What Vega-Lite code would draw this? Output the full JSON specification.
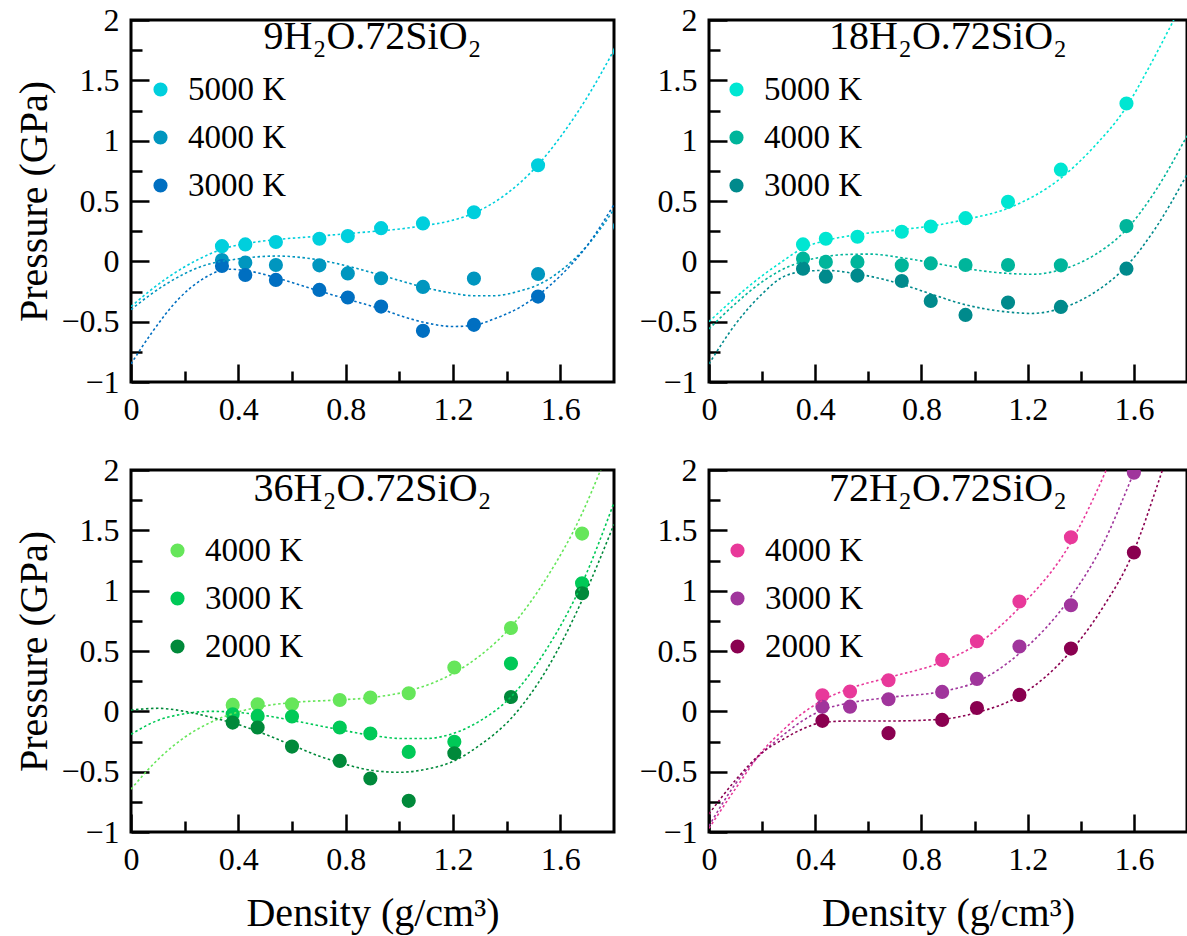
{
  "$schema": "https://vega.github.io/schema/vega-lite/v6.json",
  "background": "white",
  "padding": {"left": 13, "top": 2, "right": 0, "bottom": 0},
  "config": {
    "font": "Liberation Serif",
    "view": {"stroke": "black", "strokeWidth": 3, "fill": null},
    "axis": {"labelFont": "Liberation Serif", "labelFontSize": 32, "labelColor": "black", "titleFont": "Liberation Serif", "titleFontSize": 40, "titleFontWeight": "normal", "titleColor": "black", "grid": false, "domain": false, "tickColor": "black", "tickWidth": 2.5, "labelFlush": false, "labelOverlap": false},
    "legend": {"labelFont": "Liberation Serif", "labelFontSize": 33, "labelColor": "black", "symbolType": "circle", "symbolSize": 200, "symbolOpacity": 1, "symbolStrokeWidth": 0, "rowPadding": 14, "labelOffset": 11, "padding": 0, "orient": "none"},
    "title": {"font": "Liberation Serif", "fontSize": 40, "fontWeight": "normal", "color": "black", "anchor": "middle", "frame": "group", "baseline": "alphabetic"}
  },
  "datasets": {
    "p1": [
      {"T": "5000 K", "density": 0.339, "pressure": 0.126},
      {"T": "5000 K", "density": 0.426, "pressure": 0.14},
      {"T": "5000 K", "density": 0.540, "pressure": 0.16},
      {"T": "5000 K", "density": 0.702, "pressure": 0.187},
      {"T": "5000 K", "density": 0.808, "pressure": 0.209},
      {"T": "5000 K", "density": 0.932, "pressure": 0.275},
      {"T": "5000 K", "density": 1.088, "pressure": 0.314},
      {"T": "5000 K", "density": 1.278, "pressure": 0.407},
      {"T": "5000 K", "density": 1.517, "pressure": 0.796},
      {"T": "5000 K", "density": 1.822, "pressure": 1.74},
      {"T": "4000 K", "density": 0.339, "pressure": 0.011},
      {"T": "4000 K", "density": 0.426, "pressure": -0.011},
      {"T": "4000 K", "density": 0.540, "pressure": -0.03},
      {"T": "4000 K", "density": 0.702, "pressure": -0.033},
      {"T": "4000 K", "density": 0.808, "pressure": -0.10},
      {"T": "4000 K", "density": 0.932, "pressure": -0.14},
      {"T": "4000 K", "density": 1.088, "pressure": -0.212},
      {"T": "4000 K", "density": 1.278, "pressure": -0.143},
      {"T": "4000 K", "density": 1.517, "pressure": -0.105},
      {"T": "4000 K", "density": 1.822, "pressure": 0.29},
      {"T": "3000 K", "density": 0.339, "pressure": -0.039},
      {"T": "3000 K", "density": 0.426, "pressure": -0.113},
      {"T": "3000 K", "density": 0.540, "pressure": -0.154},
      {"T": "3000 K", "density": 0.702, "pressure": -0.237},
      {"T": "3000 K", "density": 0.808, "pressure": -0.30},
      {"T": "3000 K", "density": 0.932, "pressure": -0.375},
      {"T": "3000 K", "density": 1.088, "pressure": -0.576},
      {"T": "3000 K", "density": 1.278, "pressure": -0.526},
      {"T": "3000 K", "density": 1.517, "pressure": -0.292}
    ],
    "c1": [
      {"T": "5000 K", "density": 0, "pressure": -0.375},
      {"T": "5000 K", "density": 0.07, "pressure": -0.245},
      {"T": "5000 K", "density": 0.14, "pressure": -0.13},
      {"T": "5000 K", "density": 0.252, "pressure": 0.017},
      {"T": "5000 K", "density": 0.339, "pressure": 0.10},
      {"T": "5000 K", "density": 0.45, "pressure": 0.155},
      {"T": "5000 K", "density": 0.54, "pressure": 0.18},
      {"T": "5000 K", "density": 0.68, "pressure": 0.205},
      {"T": "5000 K", "density": 0.808, "pressure": 0.23},
      {"T": "5000 K", "density": 0.93, "pressure": 0.253},
      {"T": "5000 K", "density": 1.01, "pressure": 0.27},
      {"T": "5000 K", "density": 1.088, "pressure": 0.295},
      {"T": "5000 K", "density": 1.18, "pressure": 0.33},
      {"T": "5000 K", "density": 1.278, "pressure": 0.40},
      {"T": "5000 K", "density": 1.4, "pressure": 0.56},
      {"T": "5000 K", "density": 1.517, "pressure": 0.80},
      {"T": "5000 K", "density": 1.6, "pressure": 1.03},
      {"T": "5000 K", "density": 1.7, "pressure": 1.36},
      {"T": "5000 K", "density": 1.8, "pressure": 1.75},
      {"T": "4000 K", "density": 0, "pressure": -0.40},
      {"T": "4000 K", "density": 0.07, "pressure": -0.28},
      {"T": "4000 K", "density": 0.14, "pressure": -0.176},
      {"T": "4000 K", "density": 0.265, "pressure": -0.04},
      {"T": "4000 K", "density": 0.389, "pressure": 0.017},
      {"T": "4000 K", "density": 0.47, "pressure": 0.037},
      {"T": "4000 K", "density": 0.55, "pressure": 0.044},
      {"T": "4000 K", "density": 0.62, "pressure": 0.035},
      {"T": "4000 K", "density": 0.70, "pressure": 0.012},
      {"T": "4000 K", "density": 0.808, "pressure": -0.04},
      {"T": "4000 K", "density": 0.932, "pressure": -0.115},
      {"T": "4000 K", "density": 1.01, "pressure": -0.165},
      {"T": "4000 K", "density": 1.1, "pressure": -0.22},
      {"T": "4000 K", "density": 1.2, "pressure": -0.265},
      {"T": "4000 K", "density": 1.278, "pressure": -0.285},
      {"T": "4000 K", "density": 1.35, "pressure": -0.285},
      {"T": "4000 K", "density": 1.45, "pressure": -0.245},
      {"T": "4000 K", "density": 1.517, "pressure": -0.195},
      {"T": "4000 K", "density": 1.6, "pressure": -0.08},
      {"T": "4000 K", "density": 1.7, "pressure": 0.13},
      {"T": "4000 K", "density": 1.8, "pressure": 0.43},
      {"T": "3000 K", "density": 0, "pressure": -0.85},
      {"T": "3000 K", "density": 0.078, "pressure": -0.59},
      {"T": "3000 K", "density": 0.178, "pressure": -0.31},
      {"T": "3000 K", "density": 0.265, "pressure": -0.15},
      {"T": "3000 K", "density": 0.364, "pressure": -0.065},
      {"T": "3000 K", "density": 0.45, "pressure": -0.085},
      {"T": "3000 K", "density": 0.54, "pressure": -0.135},
      {"T": "3000 K", "density": 0.70, "pressure": -0.245},
      {"T": "3000 K", "density": 0.80, "pressure": -0.31},
      {"T": "3000 K", "density": 0.932, "pressure": -0.395},
      {"T": "3000 K", "density": 1.01, "pressure": -0.455},
      {"T": "3000 K", "density": 1.1, "pressure": -0.51},
      {"T": "3000 K", "density": 1.2, "pressure": -0.54},
      {"T": "3000 K", "density": 1.278, "pressure": -0.53},
      {"T": "3000 K", "density": 1.35, "pressure": -0.48},
      {"T": "3000 K", "density": 1.45, "pressure": -0.38},
      {"T": "3000 K", "density": 1.517, "pressure": -0.28},
      {"T": "3000 K", "density": 1.6, "pressure": -0.12},
      {"T": "3000 K", "density": 1.7, "pressure": 0.13},
      {"T": "3000 K", "density": 1.8, "pressure": 0.47}
    ],
    "p2": [
      {"T": "5000 K", "density": 0.354, "pressure": 0.14},
      {"T": "5000 K", "density": 0.44, "pressure": 0.187},
      {"T": "5000 K", "density": 0.559, "pressure": 0.204},
      {"T": "5000 K", "density": 0.726, "pressure": 0.245},
      {"T": "5000 K", "density": 0.835, "pressure": 0.289},
      {"T": "5000 K", "density": 0.966, "pressure": 0.358},
      {"T": "5000 K", "density": 1.126, "pressure": 0.493},
      {"T": "5000 K", "density": 1.325, "pressure": 0.76},
      {"T": "5000 K", "density": 1.572, "pressure": 1.308},
      {"T": "4000 K", "density": 0.354, "pressure": 0.022},
      {"T": "4000 K", "density": 0.44, "pressure": -0.005},
      {"T": "4000 K", "density": 0.559, "pressure": -0.005},
      {"T": "4000 K", "density": 0.726, "pressure": -0.033},
      {"T": "4000 K", "density": 0.835, "pressure": -0.017},
      {"T": "4000 K", "density": 0.966, "pressure": -0.03},
      {"T": "4000 K", "density": 1.126, "pressure": -0.03},
      {"T": "4000 K", "density": 1.325, "pressure": -0.033},
      {"T": "4000 K", "density": 1.572, "pressure": 0.292},
      {"T": "3000 K", "density": 0.354, "pressure": -0.061},
      {"T": "3000 K", "density": 0.44, "pressure": -0.127},
      {"T": "3000 K", "density": 0.559, "pressure": -0.118},
      {"T": "3000 K", "density": 0.726, "pressure": -0.163},
      {"T": "3000 K", "density": 0.835, "pressure": -0.328},
      {"T": "3000 K", "density": 0.966, "pressure": -0.444},
      {"T": "3000 K", "density": 1.126, "pressure": -0.342},
      {"T": "3000 K", "density": 1.325, "pressure": -0.378},
      {"T": "3000 K", "density": 1.572, "pressure": -0.061}
    ],
    "c2": [
      {"T": "5000 K", "density": 0, "pressure": -0.50},
      {"T": "5000 K", "density": 0.1, "pressure": -0.30},
      {"T": "5000 K", "density": 0.2, "pressure": -0.12},
      {"T": "5000 K", "density": 0.27, "pressure": -0.01},
      {"T": "5000 K", "density": 0.354, "pressure": 0.11},
      {"T": "5000 K", "density": 0.44, "pressure": 0.172},
      {"T": "5000 K", "density": 0.559, "pressure": 0.222},
      {"T": "5000 K", "density": 0.726, "pressure": 0.264},
      {"T": "5000 K", "density": 0.835, "pressure": 0.292},
      {"T": "5000 K", "density": 0.966, "pressure": 0.347},
      {"T": "5000 K", "density": 1.126, "pressure": 0.44},
      {"T": "5000 K", "density": 1.325, "pressure": 0.69},
      {"T": "5000 K", "density": 1.45, "pressure": 0.95},
      {"T": "5000 K", "density": 1.572, "pressure": 1.28},
      {"T": "5000 K", "density": 1.65, "pressure": 1.58},
      {"T": "5000 K", "density": 1.743, "pressure": 1.97},
      {"T": "5000 K", "density": 1.8, "pressure": 2.22},
      {"T": "4000 K", "density": 0, "pressure": -0.56},
      {"T": "4000 K", "density": 0.1, "pressure": -0.35},
      {"T": "4000 K", "density": 0.2, "pressure": -0.17},
      {"T": "4000 K", "density": 0.27, "pressure": -0.075},
      {"T": "4000 K", "density": 0.354, "pressure": 0.0},
      {"T": "4000 K", "density": 0.44, "pressure": 0.04},
      {"T": "4000 K", "density": 0.52, "pressure": 0.057},
      {"T": "4000 K", "density": 0.605, "pressure": 0.06},
      {"T": "4000 K", "density": 0.726, "pressure": 0.03},
      {"T": "4000 K", "density": 0.835, "pressure": -0.01},
      {"T": "4000 K", "density": 0.966, "pressure": -0.06},
      {"T": "4000 K", "density": 1.126, "pressure": -0.10},
      {"T": "4000 K", "density": 1.214, "pressure": -0.107},
      {"T": "4000 K", "density": 1.325, "pressure": -0.07},
      {"T": "4000 K", "density": 1.45, "pressure": 0.05},
      {"T": "4000 K", "density": 1.572, "pressure": 0.264},
      {"T": "4000 K", "density": 1.68, "pressure": 0.58},
      {"T": "4000 K", "density": 1.8, "pressure": 1.04},
      {"T": "3000 K", "density": 0, "pressure": -0.85},
      {"T": "3000 K", "density": 0.1, "pressure": -0.52},
      {"T": "3000 K", "density": 0.2, "pressure": -0.27},
      {"T": "3000 K", "density": 0.27, "pressure": -0.14},
      {"T": "3000 K", "density": 0.354, "pressure": -0.085},
      {"T": "3000 K", "density": 0.44, "pressure": -0.075},
      {"T": "3000 K", "density": 0.559, "pressure": -0.105},
      {"T": "3000 K", "density": 0.726, "pressure": -0.19},
      {"T": "3000 K", "density": 0.835, "pressure": -0.27},
      {"T": "3000 K", "density": 0.966, "pressure": -0.36},
      {"T": "3000 K", "density": 1.126, "pressure": -0.42},
      {"T": "3000 K", "density": 1.214, "pressure": -0.432},
      {"T": "3000 K", "density": 1.325, "pressure": -0.39},
      {"T": "3000 K", "density": 1.45, "pressure": -0.26},
      {"T": "3000 K", "density": 1.572, "pressure": -0.04},
      {"T": "3000 K", "density": 1.68, "pressure": 0.27},
      {"T": "3000 K", "density": 1.8, "pressure": 0.72}
    ],
    "p3": [
      {"T": "4000 K", "density": 0.379, "pressure": 0.053},
      {"T": "4000 K", "density": 0.472, "pressure": 0.059},
      {"T": "4000 K", "density": 0.600, "pressure": 0.059},
      {"T": "4000 K", "density": 0.778, "pressure": 0.094},
      {"T": "4000 K", "density": 0.892, "pressure": 0.114},
      {"T": "4000 K", "density": 1.035, "pressure": 0.15},
      {"T": "4000 K", "density": 1.205, "pressure": 0.363},
      {"T": "4000 K", "density": 1.416, "pressure": 0.691},
      {"T": "4000 K", "density": 1.681, "pressure": 1.473},
      {"T": "3000 K", "density": 0.379, "pressure": -0.024},
      {"T": "3000 K", "density": 0.472, "pressure": -0.038},
      {"T": "3000 K", "density": 0.600, "pressure": -0.043},
      {"T": "3000 K", "density": 0.778, "pressure": -0.134},
      {"T": "3000 K", "density": 0.892, "pressure": -0.184},
      {"T": "3000 K", "density": 1.035, "pressure": -0.336},
      {"T": "3000 K", "density": 1.205, "pressure": -0.253},
      {"T": "3000 K", "density": 1.416, "pressure": 0.396},
      {"T": "3000 K", "density": 1.681, "pressure": 1.061},
      {"T": "2000 K", "density": 0.379, "pressure": -0.093},
      {"T": "2000 K", "density": 0.472, "pressure": -0.134},
      {"T": "2000 K", "density": 0.600, "pressure": -0.292},
      {"T": "2000 K", "density": 0.778, "pressure": -0.411},
      {"T": "2000 K", "density": 0.892, "pressure": -0.557},
      {"T": "2000 K", "density": 1.035, "pressure": -0.742},
      {"T": "2000 K", "density": 1.205, "pressure": -0.347},
      {"T": "2000 K", "density": 1.416, "pressure": 0.119},
      {"T": "2000 K", "density": 1.681, "pressure": 0.979}
    ],
    "c3": [
      {"T": "4000 K", "density": 0, "pressure": -0.645},
      {"T": "4000 K", "density": 0.1, "pressure": -0.40},
      {"T": "4000 K", "density": 0.2, "pressure": -0.215},
      {"T": "4000 K", "density": 0.3, "pressure": -0.088},
      {"T": "4000 K", "density": 0.4, "pressure": -0.005},
      {"T": "4000 K", "density": 0.5, "pressure": 0.045},
      {"T": "4000 K", "density": 0.6, "pressure": 0.073},
      {"T": "4000 K", "density": 0.75, "pressure": 0.092},
      {"T": "4000 K", "density": 0.9, "pressure": 0.115},
      {"T": "4000 K", "density": 1.05, "pressure": 0.178},
      {"T": "4000 K", "density": 1.205, "pressure": 0.32},
      {"T": "4000 K", "density": 1.3, "pressure": 0.46},
      {"T": "4000 K", "density": 1.416, "pressure": 0.70},
      {"T": "4000 K", "density": 1.55, "pressure": 1.11},
      {"T": "4000 K", "density": 1.681, "pressure": 1.64},
      {"T": "4000 K", "density": 1.75, "pressure": 2.0},
      {"T": "4000 K", "density": 1.8, "pressure": 2.28},
      {"T": "3000 K", "density": 0, "pressure": -0.19},
      {"T": "3000 K", "density": 0.1, "pressure": -0.075},
      {"T": "3000 K", "density": 0.2, "pressure": -0.02},
      {"T": "3000 K", "density": 0.3, "pressure": 0.0},
      {"T": "3000 K", "density": 0.4, "pressure": -0.01},
      {"T": "3000 K", "density": 0.5, "pressure": -0.035},
      {"T": "3000 K", "density": 0.6, "pressure": -0.075},
      {"T": "3000 K", "density": 0.75, "pressure": -0.14},
      {"T": "3000 K", "density": 0.9, "pressure": -0.2},
      {"T": "3000 K", "density": 1.01, "pressure": -0.225},
      {"T": "3000 K", "density": 1.1, "pressure": -0.225},
      {"T": "3000 K", "density": 1.205, "pressure": -0.18},
      {"T": "3000 K", "density": 1.3, "pressure": -0.08},
      {"T": "3000 K", "density": 1.416, "pressure": 0.12},
      {"T": "3000 K", "density": 1.55, "pressure": 0.52},
      {"T": "3000 K", "density": 1.681, "pressure": 1.06},
      {"T": "3000 K", "density": 1.8, "pressure": 1.73},
      {"T": "2000 K", "density": 0, "pressure": 0.01},
      {"T": "2000 K", "density": 0.1, "pressure": 0.025},
      {"T": "2000 K", "density": 0.2, "pressure": 0.0},
      {"T": "2000 K", "density": 0.3, "pressure": -0.05},
      {"T": "2000 K", "density": 0.4, "pressure": -0.11},
      {"T": "2000 K", "density": 0.5, "pressure": -0.19},
      {"T": "2000 K", "density": 0.6, "pressure": -0.28},
      {"T": "2000 K", "density": 0.7, "pressure": -0.37},
      {"T": "2000 K", "density": 0.8, "pressure": -0.44},
      {"T": "2000 K", "density": 0.9, "pressure": -0.49},
      {"T": "2000 K", "density": 1.0, "pressure": -0.505},
      {"T": "2000 K", "density": 1.1, "pressure": -0.48},
      {"T": "2000 K", "density": 1.205, "pressure": -0.41},
      {"T": "2000 K", "density": 1.3, "pressure": -0.28},
      {"T": "2000 K", "density": 1.416, "pressure": -0.06},
      {"T": "2000 K", "density": 1.55, "pressure": 0.35},
      {"T": "2000 K", "density": 1.681, "pressure": 0.92},
      {"T": "2000 K", "density": 1.8, "pressure": 1.55}
    ],
    "p4": [
      {"T": "4000 K", "density": 0.427, "pressure": 0.133},
      {"T": "4000 K", "density": 0.531, "pressure": 0.164},
      {"T": "4000 K", "density": 0.676, "pressure": 0.258},
      {"T": "4000 K", "density": 0.878, "pressure": 0.426},
      {"T": "4000 K", "density": 1.009, "pressure": 0.581},
      {"T": "4000 K", "density": 1.169, "pressure": 0.91},
      {"T": "4000 K", "density": 1.363, "pressure": 1.443},
      {"T": "3000 K", "density": 0.427, "pressure": 0.037},
      {"T": "3000 K", "density": 0.531, "pressure": 0.039},
      {"T": "3000 K", "density": 0.676, "pressure": 0.10},
      {"T": "3000 K", "density": 0.878, "pressure": 0.161},
      {"T": "3000 K", "density": 1.009, "pressure": 0.269},
      {"T": "3000 K", "density": 1.169, "pressure": 0.537},
      {"T": "3000 K", "density": 1.363, "pressure": 0.879},
      {"T": "3000 K", "density": 1.60, "pressure": 1.978},
      {"T": "2000 K", "density": 0.427, "pressure": -0.079},
      {"T": "2000 K", "density": 0.676, "pressure": -0.181},
      {"T": "2000 K", "density": 0.878, "pressure": -0.071},
      {"T": "2000 K", "density": 1.009, "pressure": 0.028},
      {"T": "2000 K", "density": 1.169, "pressure": 0.136},
      {"T": "2000 K", "density": 1.363, "pressure": 0.52},
      {"T": "2000 K", "density": 1.60, "pressure": 1.316}
    ],
    "c4": [
      {"T": "4000 K", "density": 0, "pressure": -0.97},
      {"T": "4000 K", "density": 0.1, "pressure": -0.64},
      {"T": "4000 K", "density": 0.207, "pressure": -0.314},
      {"T": "4000 K", "density": 0.269, "pressure": -0.176},
      {"T": "4000 K", "density": 0.344, "pressure": -0.03},
      {"T": "4000 K", "density": 0.427, "pressure": 0.09},
      {"T": "4000 K", "density": 0.531, "pressure": 0.19},
      {"T": "4000 K", "density": 0.676, "pressure": 0.28},
      {"T": "4000 K", "density": 0.878, "pressure": 0.41},
      {"T": "4000 K", "density": 1.009, "pressure": 0.556},
      {"T": "4000 K", "density": 1.169, "pressure": 0.86},
      {"T": "4000 K", "density": 1.363, "pressure": 1.40},
      {"T": "4000 K", "density": 1.494, "pressure": 1.99},
      {"T": "4000 K", "density": 1.55, "pressure": 2.28},
      {"T": "3000 K", "density": 0, "pressure": -0.95},
      {"T": "3000 K", "density": 0.1, "pressure": -0.60},
      {"T": "3000 K", "density": 0.207, "pressure": -0.33},
      {"T": "3000 K", "density": 0.269, "pressure": -0.215},
      {"T": "3000 K", "density": 0.344, "pressure": -0.09},
      {"T": "3000 K", "density": 0.427, "pressure": 0.01},
      {"T": "3000 K", "density": 0.531, "pressure": 0.07},
      {"T": "3000 K", "density": 0.676, "pressure": 0.115},
      {"T": "3000 K", "density": 0.878, "pressure": 0.165},
      {"T": "3000 K", "density": 1.009, "pressure": 0.245},
      {"T": "3000 K", "density": 1.169, "pressure": 0.48},
      {"T": "3000 K", "density": 1.363, "pressure": 0.95},
      {"T": "3000 K", "density": 1.48, "pressure": 1.37},
      {"T": "3000 K", "density": 1.6, "pressure": 1.98},
      {"T": "3000 K", "density": 1.65, "pressure": 2.25},
      {"T": "2000 K", "density": 0, "pressure": -0.85},
      {"T": "2000 K", "density": 0.1, "pressure": -0.57},
      {"T": "2000 K", "density": 0.207, "pressure": -0.33},
      {"T": "2000 K", "density": 0.269, "pressure": -0.245},
      {"T": "2000 K", "density": 0.344, "pressure": -0.155},
      {"T": "2000 K", "density": 0.427, "pressure": -0.093},
      {"T": "2000 K", "density": 0.531, "pressure": -0.08},
      {"T": "2000 K", "density": 0.676, "pressure": -0.08},
      {"T": "2000 K", "density": 0.878, "pressure": -0.065},
      {"T": "2000 K", "density": 1.009, "pressure": -0.01},
      {"T": "2000 K", "density": 1.169, "pressure": 0.128},
      {"T": "2000 K", "density": 1.363, "pressure": 0.50},
      {"T": "2000 K", "density": 1.48, "pressure": 0.85},
      {"T": "2000 K", "density": 1.6, "pressure": 1.33},
      {"T": "2000 K", "density": 1.70, "pressure": 1.95},
      {"T": "2000 K", "density": 1.75, "pressure": 2.28}
    ]
  },
  "columns": 2,
  "spacing": {"row": 88, "column": 95},
  "bounds": "flush",
  "resolve": {"scale": {"color": "independent"}, "legend": {"color": "independent"}},
  "concat": [
    {
      "width": 483, "height": 362,
      "title": {"text": "9H₂O.72SiO₂", "offset": -53},
      "resolve": {"scale": {"x": "independent", "y": "independent"}, "axis": {"x": "independent", "y": "independent"}},
      "layer": [
        {
          "data": {"name": "p1"},
          "mark": {"type": "circle", "size": 200, "opacity": 1, "clip": true},
          "encoding": {
            "x": {"field": "density", "type": "quantitative", "scale": {"domain": [0, 1.8], "nice": false, "zero": false}, "axis": {"orient": "bottom", "values": [0, 0.4, 0.8, 1.2, 1.6], "format": "~g", "tickSize": -18, "labelPadding": 30, "title": null}},
            "y": {"field": "pressure", "type": "quantitative", "scale": {"domain": [-1, 2], "nice": false, "zero": false}, "axis": {"orient": "left", "values": [-1, -0.5, 0, 0.5, 1, 1.5, 2], "format": "~g", "tickSize": -18, "labelPadding": 30, "title": "Pressure (GPa)", "titlePadding": 6}},
            "color": {"field": "T", "type": "nominal", "scale": {"domain": ["5000 K", "4000 K", "3000 K"], "range": ["#00CFDD", "#0096BF", "#006FC1"]}, "legend": {"title": null, "legendX": 13, "legendY": 53}}
          }
        },
        {
          "data": {"name": "c1"},
          "mark": {"type": "line", "clip": true, "strokeWidth": 1.6, "strokeDash": [2.5, 2.5], "interpolate": "monotone"},
          "encoding": {
            "x": {"field": "density", "type": "quantitative", "scale": {"domain": [0, 1.8], "nice": false, "zero": false}, "axis": {"orient": "bottom", "values": [0.2, 0.6, 1.0, 1.4], "labels": false, "tickSize": -11, "title": null}},
            "y": {"field": "pressure", "type": "quantitative", "scale": {"domain": [-1, 2], "nice": false, "zero": false}, "axis": {"orient": "left", "values": [-0.75, -0.25, 0.25, 0.75, 1.25, 1.75], "labels": false, "tickSize": -11, "title": null}},
            "color": {"field": "T", "type": "nominal", "legend": null}
          }
        }
      ]
    },
    {
      "width": 478, "height": 362,
      "title": {"text": "18H₂O.72SiO₂", "offset": -53},
      "resolve": {"scale": {"x": "independent", "y": "independent"}, "axis": {"x": "independent", "y": "independent"}},
      "layer": [
        {
          "data": {"name": "p2"},
          "mark": {"type": "circle", "size": 200, "opacity": 1, "clip": true},
          "encoding": {
            "x": {"field": "density", "type": "quantitative", "scale": {"domain": [0, 1.8], "nice": false, "zero": false}, "axis": {"orient": "bottom", "values": [0, 0.4, 0.8, 1.2, 1.6], "format": "~g", "tickSize": -18, "labelPadding": 30, "title": null}},
            "y": {"field": "pressure", "type": "quantitative", "scale": {"domain": [-1, 2], "nice": false, "zero": false}, "axis": {"orient": "left", "values": [-1, -0.5, 0, 0.5, 1, 1.5, 2], "format": "~g", "tickSize": -18, "labelPadding": 30, "title": null}},
            "color": {"field": "T", "type": "nominal", "scale": {"domain": ["5000 K", "4000 K", "3000 K"], "range": ["#00E6D2", "#00B59B", "#008A8C"]}, "legend": {"title": null, "legendX": 11, "legendY": 53}}
          }
        },
        {
          "data": {"name": "c2"},
          "mark": {"type": "line", "clip": true, "strokeWidth": 1.6, "strokeDash": [2.5, 2.5], "interpolate": "monotone"},
          "encoding": {
            "x": {"field": "density", "type": "quantitative", "scale": {"domain": [0, 1.8], "nice": false, "zero": false}, "axis": {"orient": "bottom", "values": [0.2, 0.6, 1.0, 1.4], "labels": false, "tickSize": -11, "title": null}},
            "y": {"field": "pressure", "type": "quantitative", "scale": {"domain": [-1, 2], "nice": false, "zero": false}, "axis": {"orient": "left", "values": [-0.75, -0.25, 0.25, 0.75, 1.25, 1.75], "labels": false, "tickSize": -11, "title": null}},
            "color": {"field": "T", "type": "nominal", "legend": null}
          }
        }
      ]
    },
    {
      "width": 483, "height": 362,
      "title": {"text": "36H₂O.72SiO₂", "offset": -55},
      "resolve": {"scale": {"x": "independent", "y": "independent"}, "axis": {"x": "independent", "y": "independent"}},
      "layer": [
        {
          "data": {"name": "p3"},
          "mark": {"type": "circle", "size": 200, "opacity": 1, "clip": true},
          "encoding": {
            "x": {"field": "density", "type": "quantitative", "scale": {"domain": [0, 1.8], "nice": false, "zero": false}, "axis": {"orient": "bottom", "values": [0, 0.4, 0.8, 1.2, 1.6], "format": "~g", "tickSize": -18, "labelPadding": 30, "title": "Density (g/cm³)", "titlePadding": 18}},
            "y": {"field": "pressure", "type": "quantitative", "scale": {"domain": [-1, 2], "nice": false, "zero": false}, "axis": {"orient": "left", "values": [-1, -0.5, 0, 0.5, 1, 1.5, 2], "format": "~g", "tickSize": -18, "labelPadding": 30, "title": "Pressure (GPa)", "titlePadding": 6}},
            "color": {"field": "T", "type": "nominal", "scale": {"domain": ["4000 K", "3000 K", "2000 K"], "range": ["#66E65A", "#00C957", "#00893A"]}, "legend": {"title": null, "legendX": 30, "legendY": 64}}
          }
        },
        {
          "data": {"name": "c3"},
          "mark": {"type": "line", "clip": true, "strokeWidth": 1.6, "strokeDash": [2.5, 2.5], "interpolate": "monotone"},
          "encoding": {
            "x": {"field": "density", "type": "quantitative", "scale": {"domain": [0, 1.8], "nice": false, "zero": false}, "axis": {"orient": "bottom", "values": [0.2, 0.6, 1.0, 1.4], "labels": false, "tickSize": -11, "title": null}},
            "y": {"field": "pressure", "type": "quantitative", "scale": {"domain": [-1, 2], "nice": false, "zero": false}, "axis": {"orient": "left", "values": [-0.75, -0.25, 0.25, 0.75, 1.25, 1.75], "labels": false, "tickSize": -11, "title": null}},
            "color": {"field": "T", "type": "nominal", "legend": null}
          }
        }
      ]
    },
    {
      "width": 478, "height": 362,
      "title": {"text": "72H₂O.72SiO₂", "offset": -55},
      "resolve": {"scale": {"x": "independent", "y": "independent"}, "axis": {"x": "independent", "y": "independent"}},
      "layer": [
        {
          "data": {"name": "p4"},
          "mark": {"type": "circle", "size": 200, "opacity": 1, "clip": true},
          "encoding": {
            "x": {"field": "density", "type": "quantitative", "scale": {"domain": [0, 1.8], "nice": false, "zero": false}, "axis": {"orient": "bottom", "values": [0, 0.4, 0.8, 1.2, 1.6], "format": "~g", "tickSize": -18, "labelPadding": 30, "title": "Density (g/cm³)", "titlePadding": 18}},
            "y": {"field": "pressure", "type": "quantitative", "scale": {"domain": [-1, 2], "nice": false, "zero": false}, "axis": {"orient": "left", "values": [-1, -0.5, 0, 0.5, 1, 1.5, 2], "format": "~g", "tickSize": -18, "labelPadding": 30, "title": null}},
            "color": {"field": "T", "type": "nominal", "scale": {"domain": ["4000 K", "3000 K", "2000 K"], "range": ["#E8399A", "#A0359C", "#8A0050"]}, "legend": {"title": null, "legendX": 12, "legendY": 64}}
          }
        },
        {
          "data": {"name": "c4"},
          "mark": {"type": "line", "clip": true, "strokeWidth": 1.6, "strokeDash": [2.5, 2.5], "interpolate": "monotone"},
          "encoding": {
            "x": {"field": "density", "type": "quantitative", "scale": {"domain": [0, 1.8], "nice": false, "zero": false}, "axis": {"orient": "bottom", "values": [0.2, 0.6, 1.0, 1.4], "labels": false, "tickSize": -11, "title": null}},
            "y": {"field": "pressure", "type": "quantitative", "scale": {"domain": [-1, 2], "nice": false, "zero": false}, "axis": {"orient": "left", "values": [-0.75, -0.25, 0.25, 0.75, 1.25, 1.75], "labels": false, "tickSize": -11, "title": null}},
            "color": {"field": "T", "type": "nominal", "legend": null}
          }
        }
      ]
    }
  ]
}
